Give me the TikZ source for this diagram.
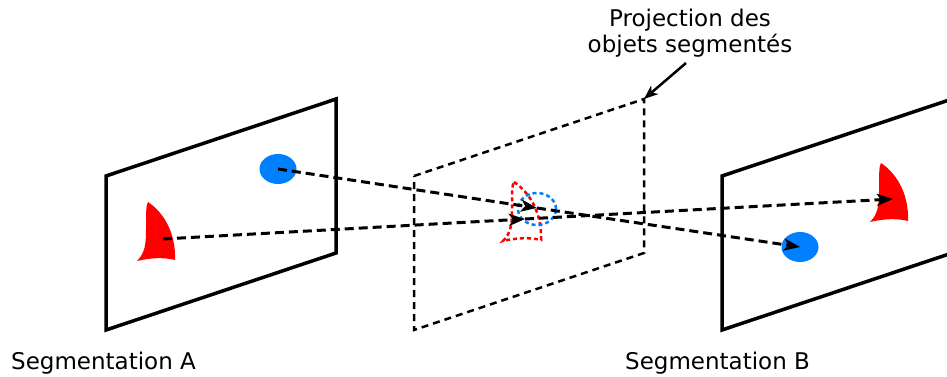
\documentclass[tikz,border=0pt]{standalone}
\usepackage{fontspec}
\setmainfont{DejaVu Sans}
\usetikzlibrary{arrows.meta,shapes.geometric}
\definecolor{segblue}{RGB}{0,128,255}
\definecolor{segred}{RGB}{255,0,0}
\begin{document}
\begin{tikzpicture}[x=1pt,y=-1pt,
  panel/.style={draw=black,line width=3.5pt,line join=miter},
  projpanel/.style={draw=black,line width=2.5pt,dash pattern=on 7pt off 5pt},
  conn/.style={draw=black,line width=3pt,dash pattern=on 9pt off 5pt,-{Stealth[length=16pt,width=12pt,inset=4pt]}},
  blob/.style={ellipse,fill=segblue,draw=none,minimum width=37pt,minimum height=30pt,inner sep=0pt},
  projblob/.style={ellipse,draw=segblue,line width=2.5pt,dash pattern=on 4pt off 3pt,minimum width=38pt,minimum height=32pt,inner sep=0pt},
  lbl/.style={font=\fontsize{23}{26}\selectfont,inner sep=0pt,align=center},
  horn/.pic={\path[pic actions] (0,0) .. controls (15,10) and (28,30) .. (27,58)
      .. controls (15,55) and (2,56) .. (-11,59)
      .. controls (-3,51) and (-2,42) .. (-2,28)
      .. controls (-2,12) and (-2,2) .. cycle;},
]
\useasboundingbox (0,0) rectangle (947,377);
% panels
\draw[panel] (106,176) -- (336,99) -- (336,253) -- (106,330) -- cycle;
\begin{scope}
\clip (700,0) rectangle (947,377);
\draw[panel] (722,176) -- (952,99) -- (952,253) -- (722,330) -- cycle;
\end{scope}
\draw[projpanel] (414,176) -- (644,99) -- (644,253) -- (414,330) -- cycle;
\coordinate (pc) at (644,99);
% objects
\node[blob] (bA) at (278,169) {};
\node[blob] (bB) at (800,247) {};
\pic[fill=segred] at (148,202) {horn};
\pic[fill=segred] at (881,163) {horn};
\pic[draw=segred,line width=2.5pt,dash pattern=on 4pt off 3pt] at (514,182) {horn};
\node[projblob] (bP) at (537,209) {};
\coordinate (rA) at (163,239);
\coordinate (rB) at (893,199);
\coordinate (rP) at (525,219);
\coordinate (bPc) at (537,208);
% connectors
\draw[conn] (bA.center) -- (bPc);
\draw[conn] (bPc) -- (bB.center);
\draw[conn] (rA) -- (rP);
\draw[conn] (rP) -- (rB);
% labels
\node[lbl,anchor=base west] (sA) at (11,369) {Segmentation A};
\node[lbl,anchor=base west] (sB) at (625,369) {Segmentation B};
\node[lbl,anchor=base] (pt) at (690,53) {Projection des\\objets segmentés};
\coordinate (ps) at (686,63);
\draw[line width=2.5pt,-{Stealth[length=14pt,width=11pt,inset=4pt]}] (ps) -- (pc);
\end{tikzpicture}
\end{document}
